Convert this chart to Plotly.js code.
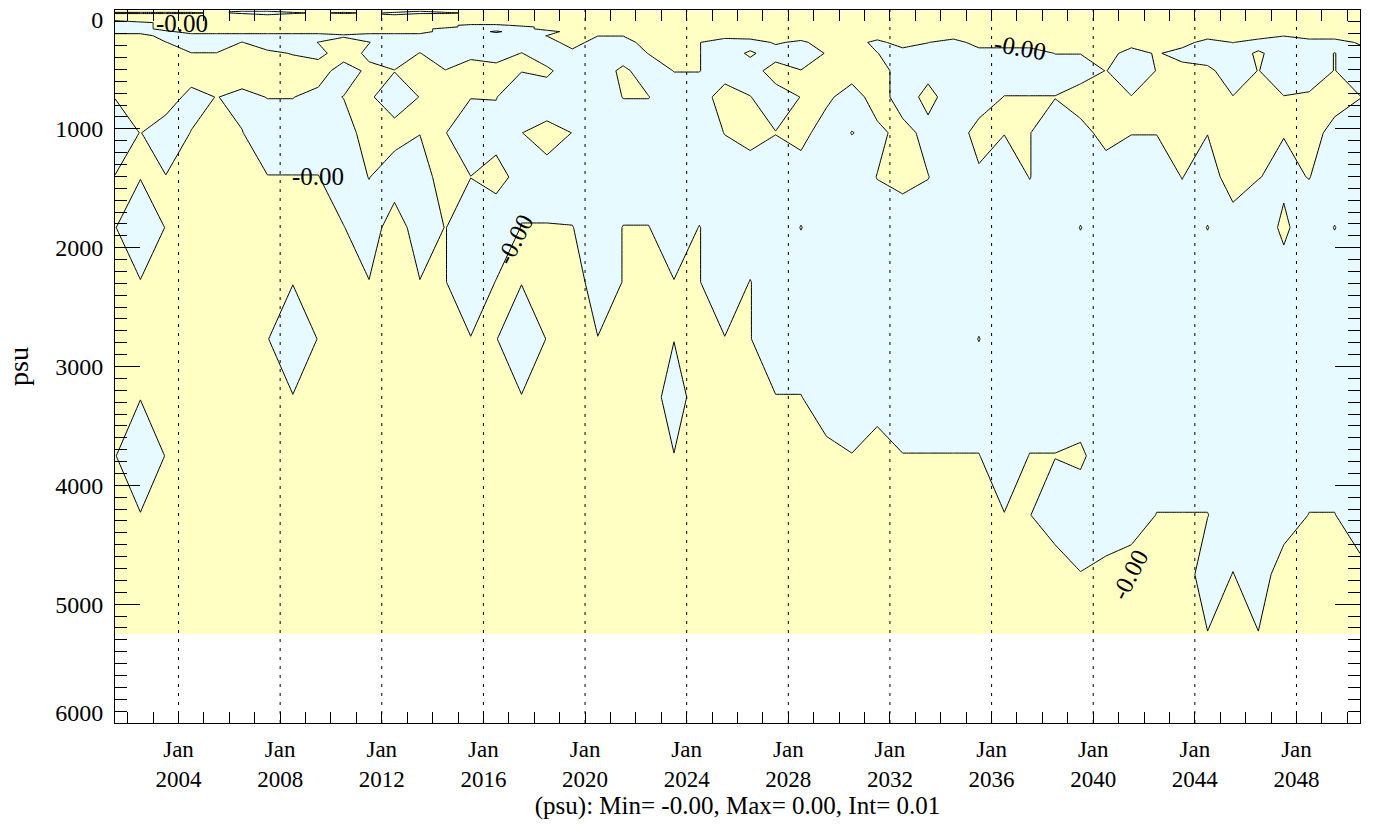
<!DOCTYPE html>
<html><head><meta charset="utf-8">
<script src="https://cdn.plot.ly/plotly-3.0.1.min.js"></script>
<style>html,body{margin:0;padding:0;background:#fff}#chart{width:1376px;height:827px}</style>
</head><body><div id="chart"></div>
<script>
// time axis (decimal years, mid-year samples)
const years = [2001.5,2002.5,2003.5,2004.5,2005.5,2006.5,2007.5,2008.5,2009.5,2010.5,
2011.5,2012.5,2013.5,2014.5,2015.5,2016.5,2017.5,2018.5,2019.5,2020.5,
2021.5,2022.5,2023.5,2024.5,2025.5,2026.5,2027.5,2028.5,2029.5,2030.5,
2031.5,2032.5,2033.5,2034.5,2035.5,2036.5,2037.5,2038.5,2039.5,2040.5,
2041.5,2042.5,2043.5,2044.5,2045.5,2046.5,2047.5,2048.5,2049.5,2050.5];
// model depth levels (m)
const depths = [5,15,25,35.01,45.01,55.03,65.06,75.13,85.25,95.49,105.97,116.9,128.7,142.19,158.96,181.96,216.65,272.48,364.3,511.53,732.2,1033.22,1405.7,1830.89,2289.77,2768.24,3257.48,3752.44,4250.4,4749.91,5250.23];
const tickYears = [2004,2008,2012,2016,2020,2024,2028,2032,2036,2040,2044,2048];
const tickText = ['Jan<br>2004','Jan<br>2008','Jan<br>2012','Jan<br>2016','Jan<br>2020','Jan<br>2024','Jan<br>2028','Jan<br>2032','Jan<br>2036','Jan<br>2040','Jan<br>2044','Jan<br>2048'];
const depthTicks = [0,1000,2000,3000,4000,5000,6000];
const depthTickText = ['0','1000','2000','3000','4000','5000','6000'];
// psu anomaly (scaled), rows = depth levels, columns = years
const psu = [
[1,1,1,1,1,1,1,1,1,1, 1,1,1,1,1,1,1,1,1,1, 1,1,1,1,1,1,1,1,1,1, 1,1,1,1,1,1,1,1,1,1, 1,1,1,1,1,1,1,1,1,1],
[1,1,1,1,1,-1,-1,1,1,1, 1,1,-1,1,1,1,1,1,1,1, 1,1,1,1,1,1,1,1,1,1, 1,1,1,1,1,1,1,1,1,1, 1,1,1,1,1,1,1,1,1,1],
[-1,-1,-1,-1,1,-1,-1,-1,1,-1, 1,-1,-1,-1,1,1,1,1,1,1, 1,1,1,1,1,1,1,1,1,1, 1,1,1,1,1,1,1,1,1,1, 1,1,1,1,1,1,1,1,1,1],
[1,1,1,1,1,1,-1,1,1,1, 1,-1,1,1,1,1,1,1,1,1, 1,1,1,1,1,1,1,1,1,1, 1,1,1,1,1,1,1,1,1,1, 1,1,1,1,1,1,1,1,1,1],
[1,1,1,1,1,1,1,1,1,1, 1,1,1,1,1,1,1,1,1,1, 1,1,1,1,1,1,1,1,1,1, 1,1,1,1,1,1,1,1,1,1, 1,1,1,1,1,1,1,1,1,1],
[1,1,1,1,1,1,1,1,1,1, 1,1,1,1,1,1,1,1,1,1, 1,1,1,1,1,1,1,1,1,1, 1,1,1,1,1,1,1,1,1,1, 1,1,1,1,1,1,1,1,1,1],
[1,1,1,1,1,1,1,1,1,1, 1,1,1,1,1,1,1,1,1,1, 1,1,1,1,1,1,1,1,1,1, 1,1,1,1,1,1,1,1,1,1, 1,1,1,1,1,1,1,1,1,1],
[1,1,1,1,1,1,1,1,1,1, 1,1,1,1,1,1,1,1,1,1, 1,1,1,1,1,1,1,1,1,1, 1,1,1,1,1,1,1,1,1,1, 1,1,1,1,1,1,1,1,1,1],
[1,1,1,1,1,1,1,1,1,1, 1,1,1,1,1,1,1,1,1,1, 1,1,1,1,1,1,1,1,1,1, 1,1,1,1,1,1,1,1,1,1, 1,1,1,1,1,1,1,1,1,1],
[-1,1,1,1,1,1,1,1,1,1, 1,1,1,1,1,1,1,1,1,1, 1,1,1,1,1,1,1,1,1,1, 1,1,1,1,1,1,1,1,1,1, 1,1,1,1,1,1,1,1,1,1],
[-1,-1,1,1,1,1,1,1,1,1, 1,1,1,1,1,1,1,1,1,1, 1,1,1,1,1,1,1,1,1,1, 1,1,1,1,1,1,1,1,1,1, 1,1,1,1,1,1,1,1,1,1],
[-1,-1,1,1,1,1,1,1,1,1, 1,1,1,1,1,1,1,1,1,1, 1,1,1,1,1,1,1,1,1,1, 1,1,1,1,1,1,1,1,1,1, 1,1,1,1,1,1,1,1,1,1],
[-1,-1,1,1,1,1,1,1,1,1, 1,1,1,1,-1,-1,1,1,1,1, 1,1,1,1,1,1,1,1,1,1, 1,1,1,1,1,1,1,1,1,1, 1,1,1,1,1,1,1,1,1,1],
[-1,-1,1,1,1,1,1,1,1,1, 1,1,1,1,-1,-1,-1,1,1,1, 1,1,1,1,1,1,1,1,1,1, 1,1,1,1,1,1,1,1,1,1, 1,1,1,1,1,1,1,1,1,1],
[-1,-1,1,1,1,1,1,1,1,1, 1,1,1,-1,-1,-1,-1,1,1,1, 1,1,1,1,1,1,1,1,1,1, 1,1,1,1,1,1,1,1,1,1, 1,1,1,1,1,1,1,1,1,1],
[-1,-1,-.5,1,1,1,1,1,1,1, 1,1,1,-1,-1,.3,-1,-1,1,1, 1,1,1,1,1,1,1,1,1,1, 1,1,1,1,1,1,1,1,1,1, 1,1,1,1,1,1,1,1,1,1],
[1,1,-1,-1,-1,-1,-1,-1,-1,-.3, -1,-1,-1,-1,-1,-1,-1,.05,1,.05, .05,1,1,1,.67,1,1,1,1,1, 1,1,1,1,1,1,1,1,1,1, 1,1,1,1,1,1,.05,1,1,1],
[1,1,.05,-1,-1,.05,-1,-1,.05,1, .05,-1,-1,-1,-1,-1,-1,-1,1,-1, -1,1,1,.05,-1,-1,.25,-.4,1,1, -.6,1,.05,-1,1,1,1,1,1,1, 1,1,1,-1,.05,-1,-1,-1,-1,.3],
[1,1,1,.05,.05,1,.4,-.1,-.55,1, -.43,-1,.05,-1,-.56,-1,.05,-1,-.67,-1, -1,.05,1,.05,-1,.3,-1,-1,.1,1, .05,-1,-1,-1,-1,-1,-1,.05,.05,1, -1,.25,-1,-1,-1,.3,-1,-1,.05,-1],
[1,1,1,1,1,1,1,1,1,-1, .45,.05,1,.05,1,.82,.05,.33,-1,-1, .4,-1,.05,.05,-1,-1,1,.05,1,1, 1,-1,-.6,-1,-1,-1,-1,-1,-1,.05, -1,.05,1,.43,-1,.05,-1,-1,.05,-1],
[.05,1,1,-.6,.05,-.45,.05,.05,-.6,.05, .25,-1,.05,1,.05,.05,-1,-1,-1,-1, .05,.05,-1,-1,1,.05,-1,.05,.43,-1, 1,-1,.6,-1,-1,.05,.05,.05,1,1, .05,1,1,1,.05,1,.05,.25,1,.05],
[-1,.05,-1,.05,1,.05,-1,-1,-1,-1, 1,.7,.05,.05,-1,-.5,-.02,.5,-.02,-1, -1,-1,-1,-1,.05,.67,.05,.67,-1,.05, -.5,.67,-.6,-1,.67,.05,.05,-1,-.67,.67, .05,.05,1,.05,1,1,.05,1,-.8,-1],
[.05,.05,.05,1,1,1,.05,.05,.05,-1, .05,-1,-1,1,.02,.5,-.5,-.5,-1,-1, -1,-1,-1,-1,-1,-1,-1,-1,-1,-1, .05,.5,.05,-1,-.29,-1,.05,-1,-1,-1, -1,-1,.05,-1,1,.05,-.35,.05,-1,-1],
[.05,-1,.05,1,1,1,1,1,1,.05, -1,1,-1,.05,-1,-1,.05,.05,.05,-1, .05,.05,-1,.05,-1,-1,-1,.05,-1,-1, -1,-1,-1,-1,-1,-1,-1,-1,.05,-1, -1,-1,-1,.05,-1,-1,.33,-1,.05,-1],
[1,.05,1,1,1,1,1,.05,1,1, .05,1,.05,.05,-1,.05,.05,1,1,-1, .05,1,.05,.05,-1,.05,-1,-1,-1,-1, -1,-1,-1,-1,-1,-1,-1,-1,-1,-1, -1,-1,-1,-1,-1,-1,-.7,-1,-1,-1],
[1,1,1,1,1,1,.05,-1,.05,1, 1,1,1,1,.05,.05,-1,.05,1,.05, 1,1,.05,1,.05,.05,-1,-1,-1,-1, -1,-1,-1,-1,.05,-1,-1,-1,-1,-1, -1,-1,-1,-1,-1,-1,-1,-1,-1,-1],
[1,.05,1,1,1,1,1,.05,1,1, 1,1,1,1,1,1,.05,1,1,1, 1,1,-1,1,1,1,.05,.05,-1,-1, -1,-1,-1,-1,-1,-1,-1,-1,-1,-1, -1,-1,-1,-1,-1,-1,-1,-1,-1,-1],
[.05,-1,.05,1,1,1,1,1,1,1, 1,1,1,1,1,1,1,1,1,1, 1,1,.05,1,1,1,1,1,.5,.05, 1,.05,.05,.05,.05,-1,.05,.05,.3,-1, -1,-1,-1,-1,-1,-1,-1,-1,-1,-1],
[1,.05,1,1,1,1,1,1,1,1, 1,1,1,1,1,1,1,1,1,1, 1,1,1,1,1,1,1,1,1,1, 1,1,1,1,1,.05,.05,-1,-1,-1, -1,.05,.05,.05,-1,-1,-1,.05,.05,-1],
[1,1,1,1,1,1,1,1,1,1, 1,1,1,1,1,1,1,1,1,1, 1,1,1,1,1,1,1,1,1,1, 1,1,1,1,1,1,1,1,.05,.45, 1,1,1,-1,.05,-1,1,1,1,.55],
[1,1,1,1,1,1,1,1,1,1, 1,1,1,1,1,1,1,1,1,1, 1,1,1,1,1,1,1,1,1,1, 1,1,1,1,1,1,1,1,1,1, 1,1,1,.05,1,.05,1,1,1,1]
];
// contour label placements
const labelYears = [2004.13, 2009.48, 2017.24, 2037.12, 2041.45];
const labelDepths = [114, 1402, 1933, 316, 4754];
const labelAngles = [0, 0, -63, 10, -63];

const FONT = 'Liberation Serif';
const trace = {
  type: 'contour', x: years, y: depths, z: psu,
  autocontour: false,
  contours: {start: 0, end: 0, size: 1, coloring: 'fill', showlines: true},
  line: {color: '#000', width: 1, smoothing: 0},
  colorscale: [[0, '#e6faff'], [0.5, '#e6faff'], [0.5, '#ffffc4'], [1, '#ffffc4']],
  showscale: false, hoverinfo: 'skip'
};
const annotations = labelYears.map((yr, k) => ({x: yr, xref: 'x', y: labelDepths[k], yref: 'y', text: '-0.00',
  textangle: labelAngles[k], showarrow: false, font: {family: FONT, size: 25, color: '#000'}}));
const shapes = tickYears.map(yr => ({type: 'line', xref: 'x', yref: 'paper', x0: yr, x1: yr, y0: 0, y1: 1,
  layer: 'above', line: {color: '#000', width: 1, dash: '3px,6px'}}));

const layout = {
  width: 1376, height: 827,
  margin: {l: 115, r: 16, t: 10, b: 104},
  paper_bgcolor: '#fff', plot_bgcolor: '#fff',
  font: {family: FONT, size: 24, color: '#000'},
  showlegend: false,
  xaxis: {
    range: [2001.5, 2050.5], showgrid: false, zeroline: false,
    showline: true, linecolor: '#000', linewidth: 1, mirror: 'allticks',
    ticks: 'inside', ticklen: 11, tickcolor: '#000', tickmode: 'array', tickvals: tickYears, ticktext: tickText,
    tickfont: {family: FONT, size: 23, color: '#000'}, ticklabelstandoff: 5,
    minor: {tickmode: 'linear', tick0: 2002, dtick: 1, ticks: 'inside', ticklen: 11, tickcolor: '#000', showgrid: false},
    title: {text: '(psu): Min= -0.00, Max= 0.00, Int= 0.01', font: {family: FONT, size: 25, color: '#000'}, standoff: 2}
  },
  yaxis: {
    range: [6000, 0], showgrid: false, zeroline: false,
    showline: true, linecolor: '#000', linewidth: 1, mirror: 'allticks',
    ticks: 'inside', ticklen: 25, tickcolor: '#000', tickmode: 'array', tickvals: depthTicks, ticktext: depthTickText,
    ticklabelstandoff: 6, ticklabeloverflow: 'allow', ticklabelshift: 0,
    tickfont: {family: FONT, size: 24, color: '#000'},
    minor: {tickmode: 'linear', tick0: 0, dtick: 100, ticks: 'inside', ticklen: 12, tickcolor: '#000', showgrid: false},
    title: {text: 'psu', font: {family: FONT, size: 28, color: '#000'}, standoff: 18}
  },
  annotations: annotations,
  shapes: shapes
};
Plotly.newPlot('chart', [trace], layout, {displayModeBar: false, staticPlot: true}).then(() => {
  // nudge the two end labels of the depth axis inside the frame, as in the reference
  const labels = document.querySelectorAll('.ytick text');
  labels.forEach(t => {
    const s = t.textContent;
    if (s === '0') t.setAttribute('transform', (t.getAttribute('transform') || '') + ' translate(0,10)');
    if (s === '6000') t.setAttribute('transform', (t.getAttribute('transform') || '') + ' translate(0,-10)');
  });
});
</script>
</body></html>
